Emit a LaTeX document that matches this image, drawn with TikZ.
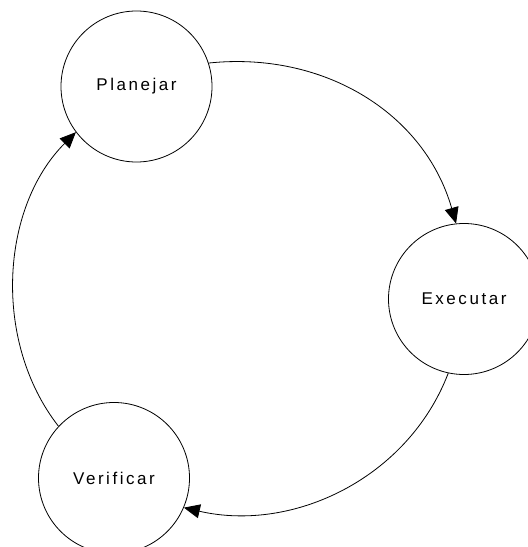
\documentclass[tikz,border=0pt]{standalone}
\usepackage{fontspec}
\setmainfont{Liberation Sans}[LetterSpace=15]
\usetikzlibrary{arrows.meta}
\begin{document}
\begin{tikzpicture}[x=1pt,y=1pt,
  stage/.style={circle, draw, line width=0.8pt, minimum size=151pt, inner sep=0pt,
                font=\fontsize{17}{20}\selectfont},
  flow/.style={line width=0.8pt, -{Triangle[length=16pt,width=14pt]}}]
\useasboundingbox (0,0) rectangle (528,547);
% the three stages of the cycle
\node[stage] (P) at (136.5,460.5) {Planejar};
\node[stage] (E) at (464,248) {Executar};
\node[stage] (V) at (114,69) {Verificar};
% arcs running clockwise around the cycle
\draw[flow] (P.18) to[out=6,in=106] (E.96);
\draw[flow] (E.258) to[out=-111,in=-13,looseness=0.97] (V.-23);
\draw[flow] (V.137) to[out=128,in=225,looseness=0.93] (P.217);
\end{tikzpicture}
\end{document}
